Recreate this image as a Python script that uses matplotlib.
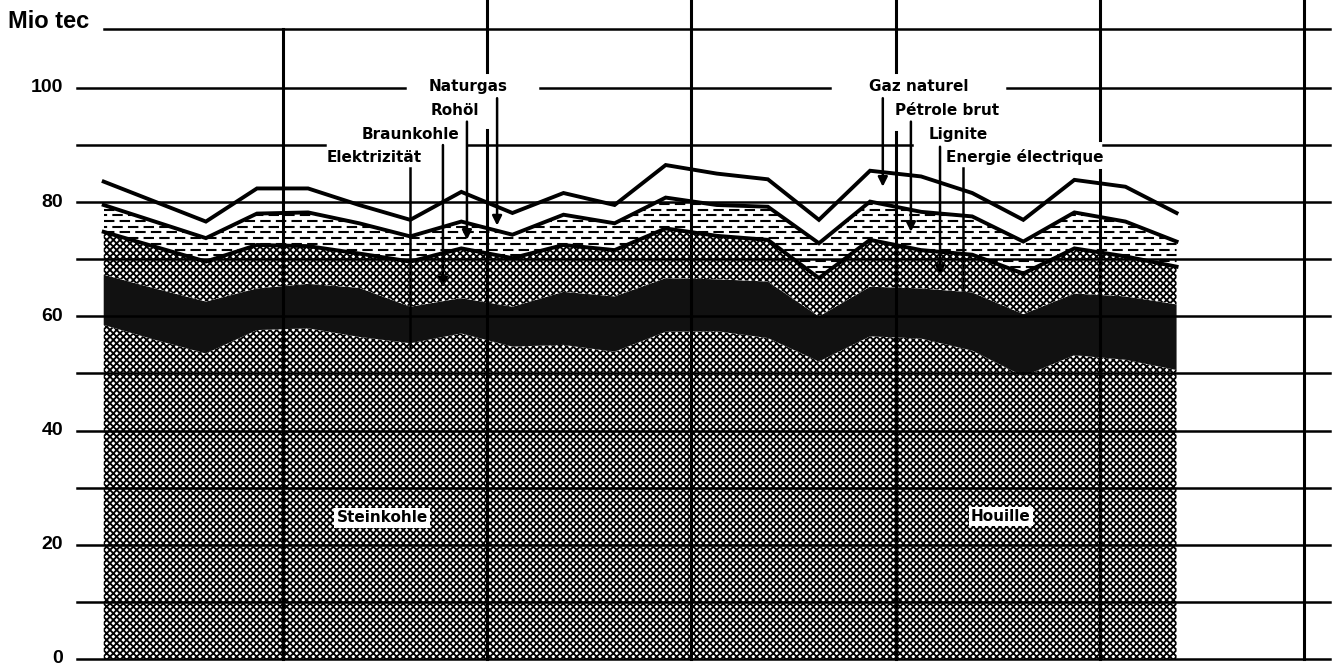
import numpy as np
import matplotlib.pyplot as plt

plt.rcParams['hatch.linewidth'] = 1.35

# Mio tec per quarter (22 quarters, stacked bottom -> top)
steinkohle = [58.5, 55.9, 53.5, 57.6, 57.9, 56.4, 55.3, 57.0, 54.7, 55.0, 53.8,
              57.3, 57.4, 56.2, 52.1, 56.5, 56.1, 54.0, 49.5, 53.2, 52.4, 50.6]
elektrizitaet = [8.8, 9.0, 9.1, 7.3, 7.8, 8.6, 6.4, 6.2, 7.0, 9.3, 9.7,
                 9.4, 9.1, 9.9, 7.9, 8.7, 8.8, 10.2, 10.9, 10.8, 11.1, 11.5]
braunkohle = [7.5, 7.3, 7.0, 7.6, 6.6, 6.0, 7.9, 8.7, 8.5, 8.2, 8.1,
              8.7, 7.6, 7.3, 6.7, 8.2, 6.7, 6.6, 7.1, 7.9, 7.0, 6.6]
rohoel = [4.7, 4.4, 4.1, 5.5, 5.9, 5.3, 4.4, 4.7, 4.1, 5.3, 4.7,
          5.4, 5.4, 5.8, 6.1, 6.7, 6.7, 6.7, 5.6, 6.3, 6.1, 4.4]
naturgas = [4.1, 3.5, 2.9, 4.4, 4.2, 3.2, 2.9, 5.2, 3.8, 3.8, 3.2,
            5.7, 5.5, 4.8, 4.1, 5.4, 6.2, 4.1, 3.8, 5.7, 6.1, 5.0]

ytick_vals = [0, 20, 40, 60, 80, 100]
labels_de = ['Naturgas', 'Rohöl', 'Braunkohle', 'Elektrizität']
labels_fr = ['Gaz naturel', 'Pétrole brut', 'Lignite', 'Energie électrique']

x = np.arange(len(steinkohle)) + 0.5   # quarter centres, years are 4 units wide
b1 = np.array(steinkohle)
b2 = b1 + np.array(elektrizitaet)
b3 = b2 + np.array(braunkohle)
b4 = b3 + np.array(rohoel)
b5 = b4 + np.array(naturgas)

fig = plt.figure(figsize=(13.38, 6.66), dpi=100)
ax = fig.add_axes([0, 0, 1, 1])
ax.set_xlim(-1.53, 24.66)
ax.set_ylim(-1.23, 115.4)
ax.set_axis_off()

zero = np.zeros_like(b1)
ax.fill_between(x, zero, b1, facecolor='white', edgecolor='black', hatch='xxxxx', lw=0, zorder=1)
ax.fill_between(x, b1, b2, facecolor='#111111', lw=0, zorder=1)
ax.fill_between(x, b2, b3, facecolor='white', edgecolor='black', hatch='xxxxx', lw=0, zorder=1)
dash_poly = ax.fill_between(x, b3, b4, facecolor='white', lw=0, zorder=1)
ax.fill_between(x, b4, b5, facecolor='white', lw=0, zorder=1)

# short dashes inside the crude oil band
clip = dash_poly.get_paths()[0]
for k, yy in enumerate(np.arange(b3.min(), b4.max() + 1, 1.0)):
    off = 3.5 if k % 2 else 0
    ln, = ax.plot([x[0], x[-1]], [yy, yy], color='black', lw=1.5,
                  linestyle=(off, (5, 2.5)), dash_capstyle='butt', zorder=1.5)
    ln.set_clip_path(clip, transform=ax.transData)

for b in (b3, b4, b5):
    ax.plot(x, b, color='black', lw=2.8, zorder=3, solid_joinstyle='miter')

# horizontal grid
gl = dict(color='black', lw=1.8, zorder=2)
for v in range(0, 90, 10):
    ax.plot([-0.02, 24.5], [v, v], **gl)
for a, b in [(-0.02, 4.83), (7.61, 16.32), (20.06, 24.5)]:
    ax.plot([a, b], [90, 90], **gl)
for a, b in [(-0.02, 6.4), (9.04, 14.72), (18.18, 24.5)]:
    ax.plot([a, b], [100, 100], **gl)
ax.plot([0.5, 24.5], [110.3, 110.3], **gl)

# vertical year lines
vl = dict(color='black', lw=2.2, zorder=2)
top = 115.4
ax.plot([4, 4], [0, 110.3], **vl)
ax.plot([8, 8], [0, 92.6], **vl)
ax.plot([8, 8], [102.8, top], **vl)
ax.plot([12, 12], [0, top], **vl)
ax.plot([16, 16], [0, 92.3], **vl)
ax.plot([16, 16], [102.8, top], **vl)
ax.plot([20, 20], [0, 85.6], **vl)
ax.plot([20, 20], [90.9, top], **vl)
ax.plot([24, 24], [0, top], **vl)

# y tick labels
for v in ytick_vals:
    ax.text(-0.29, v, str(v), ha='right', va='center', fontsize=14,
            fontweight='bold', family='Liberation Sans')
ax.text(-1.37, 110.5, 'Mio tec', ha='left', va='baseline', fontsize=17,
        fontweight='bold', family='Liberation Sans')

# series labels
lab = dict(fontsize=11, fontweight='bold', family='DejaVu Sans', ha='center', va='center')
de_pos = [(7.63, 100.2), (7.38, 96.1), (6.50, 91.8), (5.79, 87.9)]
fr_pos = [(16.46, 100.2), (17.01, 96.1), (17.22, 91.8), (18.53, 87.9)]
for t, (px, py) in zip(labels_de + labels_fr, de_pos + fr_pos):
    ax.text(px, py, t, **lab)

# leader lines (x, y_from, y_to, arrow)
leaders = [(8.20, 98.2, 75.9, True), (7.61, 94.1, 73.4, True),
           (7.14, 90.0, 65.1, True), (6.50, 86.0, 54.6, False),
           (15.75, 98.2, 82.7, True), (16.30, 94.1, 74.8, True),
           (16.87, 89.7, 67.2, True), (17.32, 86.0, 64.6, False)]
for lx, y0, y1, arr in leaders:
    if arr:
        ax.annotate('', xy=(lx, y1), xytext=(lx, y0), zorder=4,
                    arrowprops=dict(arrowstyle='-|>', color='black', lw=1.8,
                                    mutation_scale=14, shrinkA=0, shrinkB=0))
    else:
        ax.plot([lx, lx], [y0, y1], color='black', lw=1.8, zorder=4)

box = dict(facecolor='white', edgecolor='none', pad=1.5)
ax.text(5.95, 24.7, 'Steinkohle', bbox=box, zorder=5, **lab)
ax.text(18.06, 24.9, 'Houille', bbox=box, zorder=5, **lab)

fig.savefig('out.png', dpi=100)
